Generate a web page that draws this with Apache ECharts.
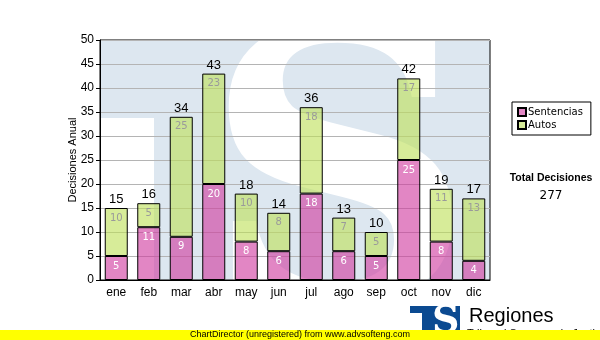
<!DOCTYPE html>
<html>
<head>
<meta charset="utf-8">
<script src="https://cdn.jsdelivr.net/npm/echarts@6/dist/echarts.min.js"></script>
<style>
  html, body { margin: 0; padding: 0; background: #ffffff; }
  #chart { width: 600px; height: 340px; }
</style>
</head>
<body>
<div id="chart"></div>
<script>
// Monthly decisions, split by type
const months = ['ene', 'feb', 'mar', 'abr', 'may', 'jun', 'jul', 'ago', 'sep', 'oct', 'nov', 'dic'];
const sentencias = [5, 11, 9, 20, 8, 6, 18, 6, 5, 25, 8, 4];
const autos = [10, 5, 25, 23, 10, 8, 18, 7, 5, 17, 11, 13];
const yTicks = { min: 0, max: 50, step: 5 };

const totals = months.map((m, i) => sentencias[i] + autos[i]);
const grandTotal = totals.reduce((a, b) => a + b, 0);

const plot = { left: 100, top: 40, width: 390, height: 240 };
const sansFont = '"Liberation Sans", Arial, sans-serif';
const uiFont = '"DejaVu Sans", Verdana, sans-serif';

const chart = echarts.init(document.getElementById('chart'), null, { renderer: 'canvas' });

chart.setOption({
  animation: false,
  backgroundColor: '#ffffff',
  grid: {
    left: plot.left, top: plot.top, width: plot.width, height: plot.height,
    show: true, borderColor: '#000000', borderWidth: 1, backgroundColor: 'transparent'
  },
  legend: {
    orient: 'vertical',
    left: 512, top: 102,
    padding: [5, 8, 5, 5],
    itemGap: 3,
    itemWidth: 8, itemHeight: 8,
    icon: 'rect',
    borderColor: '#000000', borderWidth: 1,
    data: ['Sentencias', 'Autos'],
    textStyle: { fontFamily: uiFont, fontSize: 10, color: '#000000', padding: [0, 0, 0, -3] }
  },
  xAxis: {
    type: 'category',
    data: months,
    axisLine: { lineStyle: { color: '#000000', width: 1 } },
    axisTick: { alignWithLabel: true, length: 4, lineStyle: { color: '#000000' } },
    axisLabel: { color: '#000000', fontFamily: sansFont, fontSize: 12, margin: 7 },
    splitLine: { show: false }
  },
  yAxis: {
    type: 'value',
    min: yTicks.min, max: yTicks.max, interval: yTicks.step,
    name: 'Decisiones Anual',
    nameLocation: 'middle',
    nameGap: 22,
    nameMoveOverlap: false,
    nameTextStyle: { fontFamily: sansFont, fontSize: 11, color: '#000000' },
    axisLine: { show: true, lineStyle: { color: '#000000', width: 1 } },
    axisTick: { show: true, length: 4, lineStyle: { color: '#000000' } },
    axisLabel: { color: '#000000', fontFamily: sansFont, fontSize: 12, margin: 6 },
    splitLine: { show: true, lineStyle: { color: '#b4b4b4', width: 1 } }
  },
  graphic: [
    // watermark inside the plot area
    { type: 'rect', z: -5, silent: true,
      shape: { x: plot.left, y: plot.top, width: plot.width, height: plot.height },
      style: { fill: '#dde7f0' } },
    { type: 'rect', z: -4, silent: true,
      shape: { x: plot.left + 1, y: 118, width: 53, height: 162 },
      style: { fill: '#ffffff' } },
    { type: 'text', z: -4, silent: true, x: 204, y: 14,
      style: { text: 'S', font: 'bold 375px "DejaVu Serif", serif', fill: '#ffffff', textVerticalAlign: 'top' } },
    // total block on the right
    { type: 'text', x: 551, y: 178, silent: true,
      style: { text: 'Total Decisiones', font: 'bold 10.5px ' + sansFont, fill: '#000000', textAlign: 'center', textVerticalAlign: 'middle' } },
    { type: 'text', x: 551, y: 196, silent: true,
      style: { text: String(grandTotal), font: '12px ' + uiFont, fill: '#000000', textAlign: 'center', textVerticalAlign: 'middle' } },
    // logo
    { type: 'rect', silent: true, shape: { x: 410, y: 306, width: 50, height: 34 }, style: { fill: '#0b4a91' } },
    { type: 'rect', silent: true, shape: { x: 410, y: 313, width: 12, height: 27 }, style: { fill: '#ffffff' } },
    { type: 'text', silent: true, x: 432, y: 303,
      style: { text: 'S', font: 'bold 38px "DejaVu Serif", serif', fill: '#ffffff', textVerticalAlign: 'top' } },
    { type: 'text', silent: true, x: 469, y: 316,
      style: { text: 'Regiones', font: '20px ' + sansFont, fill: '#000000', textVerticalAlign: 'middle' } },
    { type: 'text', silent: true, x: 467, y: 334,
      style: { text: 'Tribunal Supremo de Justicia', font: '11px ' + sansFont, fill: '#000000', textVerticalAlign: 'middle' } },
    // footer strip
    { type: 'rect', silent: true, z: 10, shape: { x: 0, y: 330, width: 600, height: 10 }, style: { fill: '#ffff00' } },
    { type: 'text', silent: true, z: 11, x: 190, y: 335,
      style: { text: 'ChartDirector (unregistered) from www.advsofteng.com', font: '9px ' + sansFont, fill: '#000000', textVerticalAlign: 'middle' } }
  ],
  series: [
    {
      name: 'Sentencias', type: 'bar', stack: 'm', barWidth: 23,
      data: sentencias,
      itemStyle: { color: 'rgba(208, 60, 160, 0.62)', borderColor: '#000000', borderWidth: 1 },
      label: { show: true, position: 'insideTop', distance: 5, color: '#ffffff', fontFamily: uiFont, fontSize: 10 }
    },
    {
      name: 'Autos', type: 'bar', stack: 'm', barWidth: 23,
      data: autos,
      itemStyle: { color: 'rgba(190, 225, 90, 0.62)', borderColor: '#000000', borderWidth: 1 },
      label: { show: true, position: 'insideTop', distance: 5, color: '#9a9a9a', fontFamily: uiFont, fontSize: 10 }
    },
    {
      name: 'Total', type: 'bar', stack: 'm', barWidth: 23,
      data: totals.map(() => 0),
      itemStyle: { color: 'transparent', borderWidth: 0 },
      label: {
        show: true, position: 'top', distance: 2, color: '#000000', fontFamily: sansFont, fontSize: 13,
        formatter: p => String(totals[p.dataIndex])
      }
    }
  ]
});
</script>
</body>
</html>
